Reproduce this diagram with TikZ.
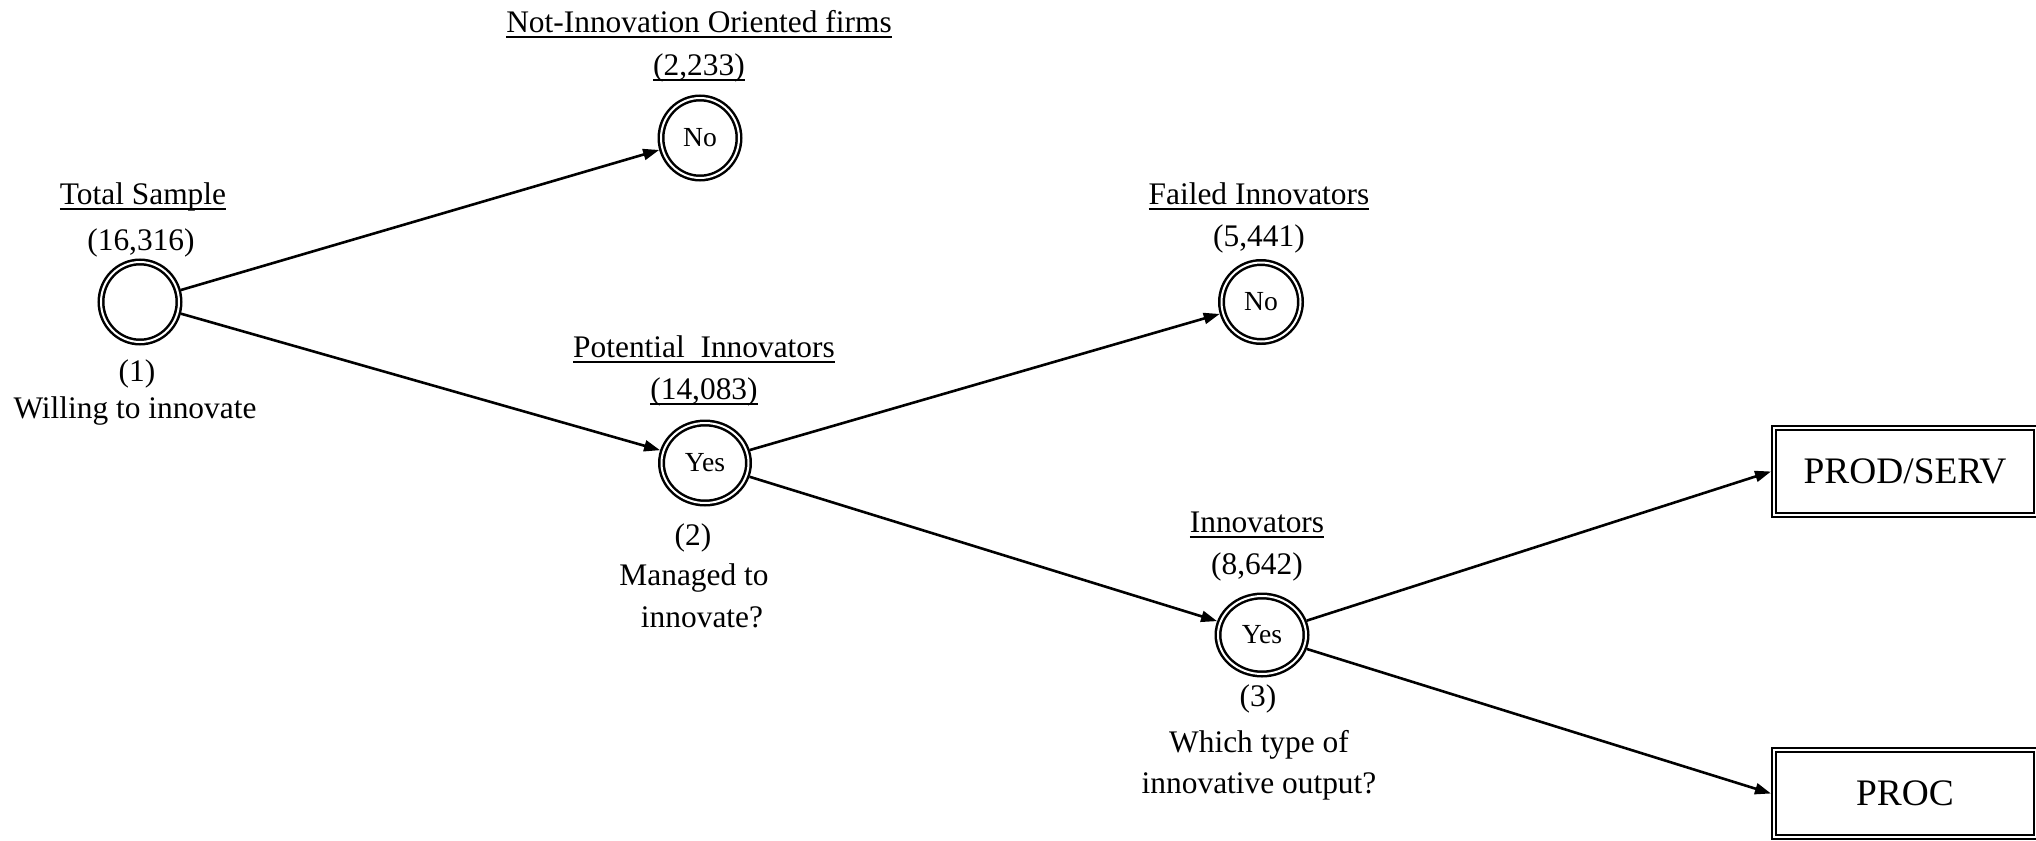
\documentclass[tikz,border=0pt]{standalone}
\usepackage{fontspec}
\setmainfont{Liberation Serif}
\usetikzlibrary{shapes.geometric,arrows.meta}
\newcommand{\myul}[1]{\setbox0\hbox{#1}\rlap{\rule[-3pt]{\wd0}{0.9pt}}\box0}
\begin{document}
\begin{tikzpicture}[x=0.5pt,y=-0.5pt,
  state/.style={ellipse,draw,line width=1.25pt,double,double distance=1pt,inner sep=0pt,outer sep=1.75pt,font=\fontsize{13.8}{16}\selectfont},
  outbox/.style={rectangle,draw,line width=1.1pt,double,double distance=1pt,minimum width=130.8pt,minimum height=43.3pt,inner sep=0pt,outer sep=1.6pt,font=\fontsize{18.7}{22}\selectfont},
  lbl/.style={anchor=base,inner sep=0pt,font=\fontsize{15.7}{19}\selectfont},
  arr/.style={line width=1.3pt,-{Triangle[length=8pt,width=5.5pt]}}
]
\useasboundingbox (0,0) rectangle (2036,841);

\node[state,minimum width=39pt,minimum height=40pt] (n1) at (140,302) {};
\node[state,minimum width=39pt,minimum height=40pt] (no1) at (700,138) {No};
\node[state,minimum width=43.5pt,minimum height=40pt] (yes2) at (705,463) {Yes};
\node[state,minimum width=39.5pt,minimum height=39.5pt] (no2) at (1261,302) {No};
\node[state,minimum width=44pt,minimum height=39pt] (yes3) at (1262,635) {Yes};
\node[outbox] (prod) at (1905,471.5) {PROD/SERV};
\node[outbox] (proc) at (1905,793.5) {PROC};

\node[lbl] (t1) at (143,204) {\myul{Total Sample}};
\node[lbl] (c1) at (141,250) {(16,316)};
\node[lbl] (q1) at (137,381) {(1)};
\node[lbl] (w1) at (135,418) {Willing to innovate};

\node[lbl] (t2) at (699,32) {\myul{Not-Innovation Oriented firms}};
\node[lbl] (c2) at (699,75) {\myul{(2,233)}};

\node[lbl] (t3) at (704,357) {\myul{Potential\ \ Innovators}};
\node[lbl] (c3) at (704,399) {\myul{(14,083)}};
\node[lbl] (q2) at (693,545) {(2)};
\node[lbl] (m2a) at (694,585) {Managed to};
\node[lbl] (m2b) at (702,627) {innovate?};

\node[lbl] (t4) at (1259,204) {\myul{Failed Innovators}};
\node[lbl] (c4) at (1259,246) {(5,441)};

\node[lbl] (t5) at (1257,532) {\myul{Innovators}};
\node[lbl] (c5) at (1257,574) {(8,642)};
\node[lbl] (q3) at (1258,706) {(3)};
\node[lbl] (w3a) at (1259,752) {Which type of};
\node[lbl] (w3b) at (1259,793) {innovative output?};

\draw[arr] (n1) -- (no1);
\draw[arr] (n1) -- (yes2);
\draw[arr] (yes2) -- (no2);
\draw[arr] (yes2) -- (yes3);
\draw[arr] (yes3) -- (prod.west);
\draw[arr] (yes3) -- (proc.west);
\end{tikzpicture}
\end{document}
